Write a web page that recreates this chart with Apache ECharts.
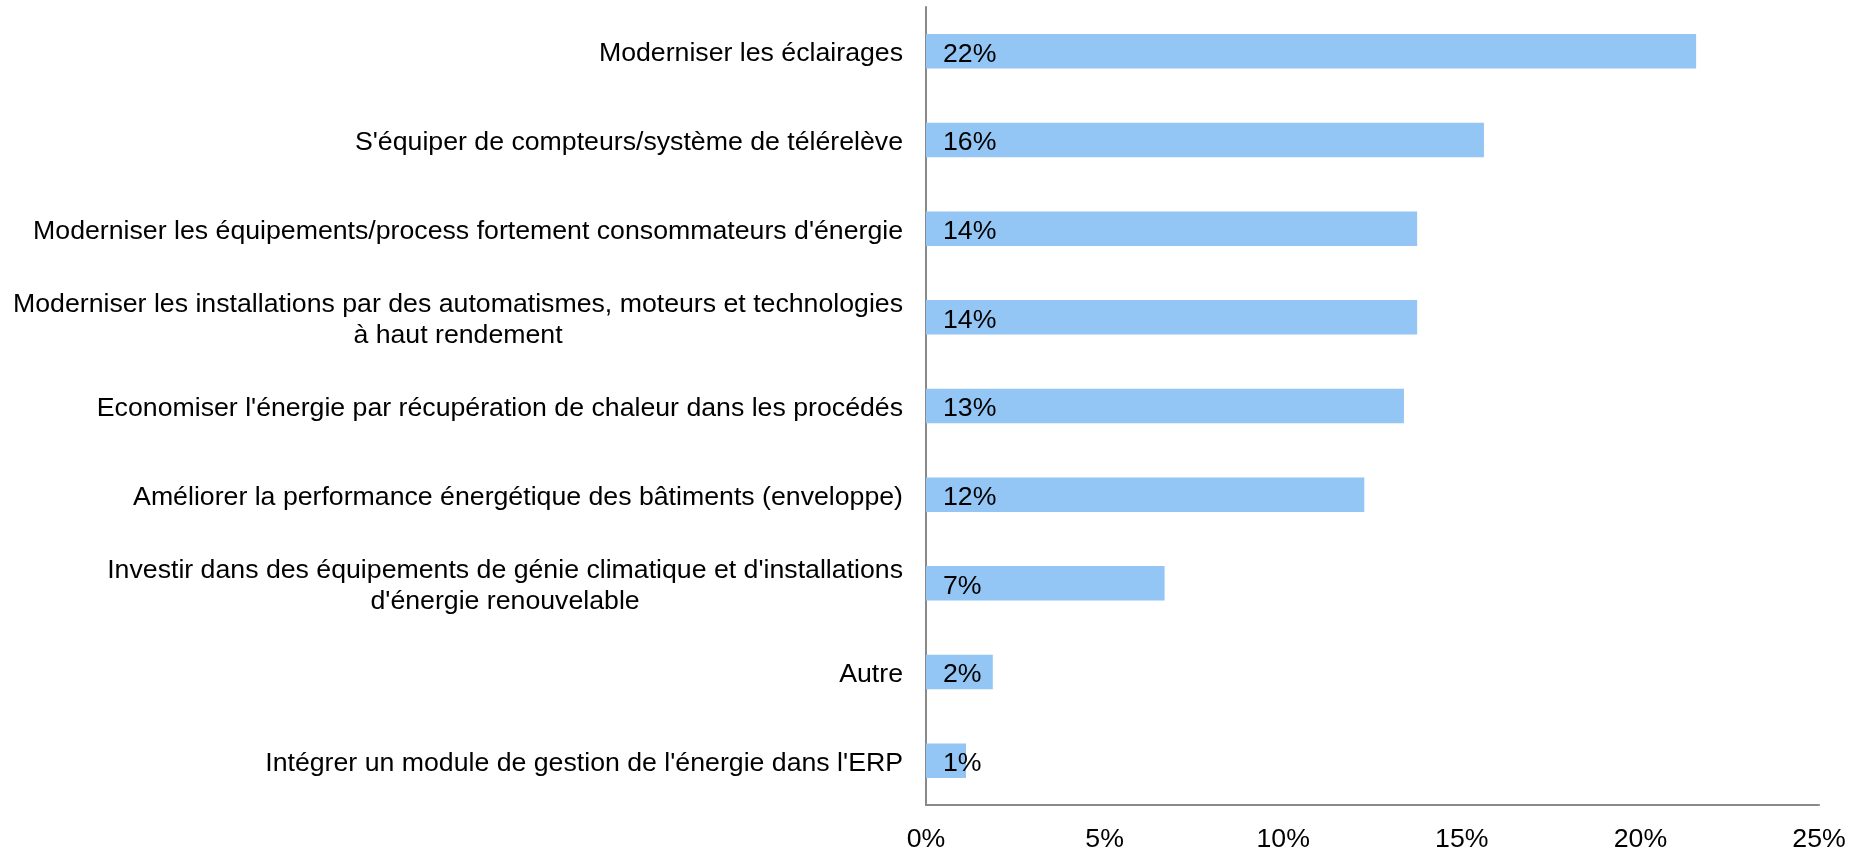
<!DOCTYPE html>
<html lang="fr">
<head>
<meta charset="utf-8">
<script src="https://cdn.jsdelivr.net/npm/echarts@6/dist/echarts.min.js"></script>
<style>
  html, body { margin: 0; padding: 0; background: #fff; }
  #chart { width: 1849px; height: 849px; }
</style>
</head>
<body>
<div id="chart"></div>
<script>
// catégories, du haut vers le bas
var categories = [
    "Moderniser les éclairages",
    "S'équiper de compteurs/système de télérelève",
    "Moderniser les équipements/process fortement consommateurs d'énergie",
    "Moderniser les installations par des automatismes, moteurs et technologies\nà haut rendement",
    "Economiser l'énergie par récupération de chaleur dans les procédés",
    "Améliorer la performance énergétique des bâtiments (enveloppe)",
    "Investir dans des équipements de génie climatique et d'installations\nd'énergie renouvelable",
    "Autre",
    "Intégrer un module de gestion de l'énergie dans l'ERP"
];
var values = [21.56, 15.62, 13.75, 13.75, 13.38, 12.27, 6.68, 1.87, 1.12];
var xTicks = [0, 5, 10, 15, 20, 25];

var chart = echarts.init(document.getElementById('chart'));

var option = {
    textStyle: { fontFamily: 'Liberation Sans, Arial, sans-serif' },
    grid: {
        left: 926,
        right: 30,
        top: 7,
        bottom: 44,
        containLabel: false,
        outerBoundsMode: 'none'
    },
    xAxis: {
        type: 'value',
        min: xTicks[0],
        max: xTicks[xTicks.length - 1],
        interval: 5,
        axisLine: { show: true, lineStyle: { color: '#898989', width: 2 } },
        axisTick: { show: false },
        splitLine: { show: false },
        axisLabel: {
            color: '#000',
            fontSize: 26.7,
            margin: 21,
            formatter: function (v) { return v + '%'; }
        }
    },
    yAxis: {
        type: 'category',
        inverse: true,
        data: categories,
        axisLine: { show: true, lineStyle: { color: '#898989', width: 2 } },
        axisTick: { show: false },
        axisLabel: {
            color: '#000',
            fontSize: 26.7,
            margin: 23,
            lineHeight: 31,
            padding: [5, 0, 0, 0],
            formatter: function (v) {
                // lignes centrées entre elles
                return v.split('\n').map(function (s) { return '{c|' + s + '}'; }).join('\n');
            },
            rich: {
                c: { align: 'center', fontSize: 26.7, lineHeight: 31, color: '#000' }
            }
        }
    },
    series: [{
        type: 'bar',
        data: values,
        barWidth: '39%',
        itemStyle: { color: '#93C6F5' },
        label: {
            show: true,
            position: 'insideLeft',
            distance: 17,
            offset: [0, 3],
            color: '#000',
            fontSize: 26.7,
            formatter: function (p) { return Math.round(p.value) + '%'; }
        }
    }]
};

chart.setOption(option);
</script>
</body>
</html>
